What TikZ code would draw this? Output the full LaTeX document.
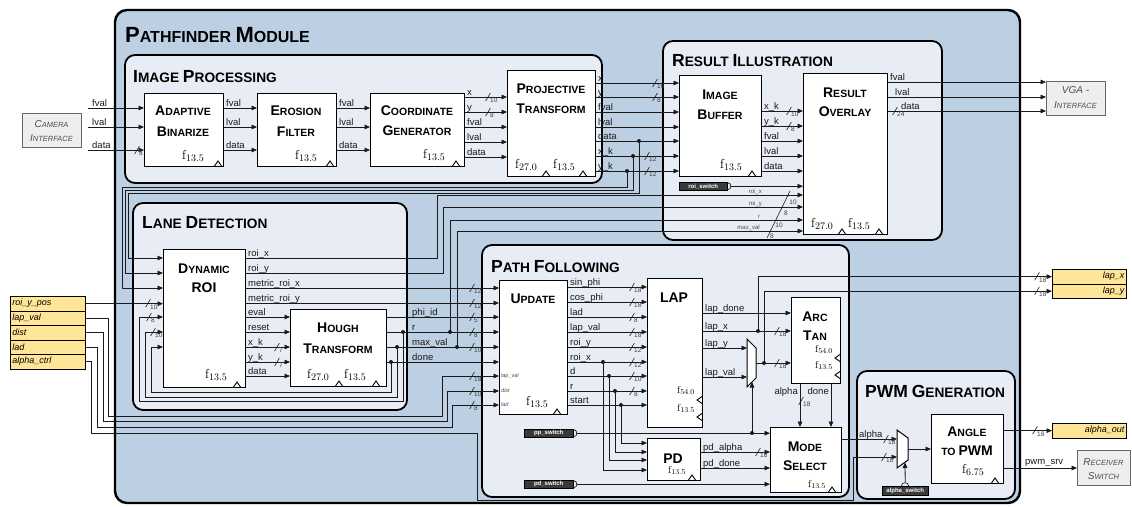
\documentclass[tikz,border=0pt]{standalone}
\usepackage{fontspec}
\setsansfont{Liberation Sans}
\usetikzlibrary{arrows.meta,calc}

\definecolor{modfill}{HTML}{BDCFE2}
\definecolor{secfill}{HTML}{E8EDF5}
\definecolor{ioyellow}{HTML}{FFE597}
\definecolor{extfill}{HTML}{EEEEEE}
\definecolor{tagfill}{HTML}{3A3A3A}
\definecolor{wirecol}{HTML}{1A1A1A}

% fake small capitals: larger initials
\newcommand\bk[1]{{\fontsize{14}{14}\selectfont #1}}
\newcommand\sk[1]{{\fontsize{17.5}{17.5}\selectfont #1}}
\newcommand\mk[1]{{\fontsize{22}{22}\selectfont #1}}
\newcommand\ck[1]{{\fontsize{10}{10}\selectfont #1}}
% clock-domain labels
\newcommand\fq[1]{f\raisebox{-2.4pt}{\fontsize{10}{10}\selectfont #1}}
\newcommand\fqs[1]{f\raisebox{-1.8pt}{\fontsize{7.5}{7.5}\selectfont #1}}

\newcounter{busn}
\newcounter{lbln}
\newcounter{ttln}

\tikzset{
  wire/.style={draw=wirecol, line width=0.8pt},
  arr/.style={wire, -{Triangle[length=5.5pt,width=4.6pt]}},
  box/.style={draw=black, fill=white, line width=1.2pt, inner sep=0pt},
  sec/.style={draw=black, fill=secfill, line width=1.8pt, rounded corners=10pt},
  modt/.style={font=\sffamily\bfseries\fontsize{16}{16}\selectfont, inner sep=0pt, anchor=base west},
  sect/.style={font=\sffamily\bfseries\fontsize{13.7}{13.7}\selectfont, inner sep=0pt, anchor=base west},
  bt/.style={font=\sffamily\bfseries\fontsize{10.5}{10.5}\selectfont, inner sep=0pt, anchor=base},
  lbl/.style={font=\sffamily\fontsize{9.5}{9.5}\selectfont, text=wirecol, inner sep=0pt, anchor=base west},
  tiny/.style={font=\sffamily\fontsize{6}{6}\selectfont, text=black!70, inner sep=0pt},
  buslbl/.style={font=\sffamily\fontsize{6.5}{6.5}\selectfont, text=black!75, inner sep=0pt, anchor=north west},
  busln/.style={draw=wirecol, line width=0.6pt},
  freq/.style={font=\fontsize{13}{13}\selectfont, inner sep=0pt, anchor=base west},
  freqs/.style={font=\fontsize{10}{10}\selectfont, inner sep=0pt, anchor=base west},
  clk/.style={draw=black, line width=0.9pt},
  tag/.style={draw=black, fill=tagfill, text=white, font=\sffamily\bfseries\fontsize{6}{6}\selectfont, inner sep=0pt, anchor=north west},
  yel/.style={draw=black, fill=ioyellow, line width=0.8pt, inner sep=0pt, anchor=north west, font=\sffamily\itshape\fontsize{9}{9}\selectfont},
  ext/.style={draw=black!60, fill=extfill, line width=0.8pt, inner sep=0pt, anchor=north west},
  extt/.style={font=\sffamily\itshape\fontsize{7.5}{7.5}\selectfont, text=black!70, inner sep=0pt, anchor=base},
  mux/.style={draw=black, fill=white, line width=1pt},
}

\newcommand\blk[5]{\node[box, anchor=north west, minimum width={(#4-#2)*1pt}, minimum height={(#5-#3)*1pt}] (#1) at (#2,#3) {};}
\newcommand\bus[3]{\stepcounter{busn}%
  \draw[busln] (#1-2.4,#2+4) -- (#1+2.4,#2-4);%
  \node[buslbl] (bus-\arabic{busn}) at (#1+2,#2+1.2) {#3};}
\newcommand\wl[3]{\stepcounter{lbln}\node[lbl] (wl-\arabic{lbln}) at (#1,#2-1.6) {#3};}
\newcommand\ttl[3]{\stepcounter{ttln}\node[bt] (tt-\arabic{ttln}) at (#1,#2) {#3};}
\newcommand\clk[2]{\draw[clk] (#1-3.5,#2) -- (#1,#2-5) -- (#1+3.5,#2);}
\newcommand\clkl[2]{\draw[clk] (#1,#2-3.5) -- (#1-5,#2) -- (#1,#2+3.5);}
\newcommand\jd[1]{\fill[wirecol] (#1) circle (2pt);}
\newcommand\tagend[1]{\draw[wire, line width=0.7pt] ($(#1.north east)+(0,0.6)$) .. controls +(4.6,0) and +(4.6,0) .. ($(#1.south east)+(0,-0.6)$);}

\begin{document}
\begin{tikzpicture}[x=1pt,y=-1pt]
\fill[white] (0,0) rectangle (1132,506);
\useasboundingbox (0,0) rectangle (1132,506);

% ---------------- module frame
\draw[line width=2.4pt, fill=modfill, rounded corners=12pt] (115,10) rectangle (1020,503);
\node[modt] (t-mod) at (125,42) {\mk{P}ATHFINDER \mk{M}ODULE};

% ---------------- sections
\draw[sec] (125,55) rectangle (602,183);
\node[sect] (t-ip) at (133,82) {\sk{I}MAGE \sk{P}ROCESSING};
\draw[sec] (663,41) rectangle (942,240);
\node[sect] (t-ri) at (672,66) {\sk{R}ESULT \sk{I}LLUSTRATION};
\draw[sec] (133,203) rectangle (407,410);
\node[sect] (t-ld) at (142,228) {\sk{L}ANE \sk{D}ETECTION};
\draw[sec] (482,245) rectangle (849,497);
\node[sect] (t-pf) at (491,272) {\sk{P}ATH \sk{F}OLLOWING};
\draw[sec] (857,371) rectangle (1015,499);
\node[sect] (t-pwm) at (865,397) {\sk{PWM} \sk{G}ENERATION};

% ---------------- blocks
\blk{ab}{144}{93}{223}{166}
\blk{ef}{257}{93}{336}{166}
\blk{cg}{370}{93}{464}{166}
\blk{pjt}{507}{70}{595}{176}
\blk{ib}{679}{75}{761}{176}
\blk{ro}{803}{73}{887}{234}
\blk{dr}{163}{249}{245}{387}
\blk{ht}{290}{309}{386}{386}
\blk{up}{499}{280}{567}{414}
\blk{lap}{647}{278}{702}{427}
\blk{pd}{647}{438}{700}{480}
\blk{atan}{791}{297}{840}{383}
\blk{ms}{770}{427}{841}{492}
\blk{ap}{931}{414}{1003}{483}

\ttl{183}{115}{\bk{A}DAPTIVE}   \ttl{183}{136}{\bk{B}INARIZE}
\ttl{296}{115}{\bk{E}ROSION}    \ttl{296}{136}{\bk{F}ILTER}
\ttl{417}{115}{\bk{C}OORDINATE} \ttl{417}{135}{\bk{G}ENERATOR}
\ttl{551}{93}{\bk{P}ROJECTIVE}  \ttl{551}{113}{\bk{T}RANSFORM}
\ttl{720}{99}{\bk{I}MAGE}       \ttl{720}{119}{\bk{B}UFFER}
\ttl{845}{97}{\bk{R}ESULT}      \ttl{845}{116}{\bk{O}VERLAY}
\ttl{204}{273}{\bk{D}YNAMIC}    \ttl{204}{292}{\bk{ROI}}
\ttl{338}{332}{\bk{H}OUGH}      \ttl{338}{353}{\bk{T}RANSFORM}
\ttl{533}{303}{\bk{U}PDATE}
\ttl{674}{302}{\bk{LAP}}
\ttl{673}{463}{\bk{PD}}
\ttl{815}{321}{\bk{A}RC}        \ttl{815}{340}{\bk{T}AN}
\ttl{805}{451}{\bk{M}ODE}       \ttl{805}{470}{\bk{S}ELECT}
\ttl{967}{436}{\bk{A}NGLE}      \ttl{967}{455}{TO \bk{PWM}}

\node[freq] (f-ab) at (182,159) {\fq{13.5}};
\node[freq] (f-ef) at (295,159) {\fq{13.5}};
\node[freq] (f-cg) at (423,158) {\fq{13.5}};
\node[freq] (f-pt1) at (515,168) {\fq{27.0}};
\node[freq] (f-pt2) at (553,168) {\fq{13.5}};
\node[freq] (f-ib) at (720,168) {\fq{13.5}};
\node[freq] (f-ro1) at (811,227) {\fq{27.0}};
\node[freq] (f-ro2) at (848,227) {\fq{13.5}};
\node[freq] (f-dr) at (205,378) {\fq{13.5}};
\node[freq] (f-ht1) at (307,378) {\fq{27.0}};
\node[freq] (f-ht2) at (344,378) {\fq{13.5}};
\node[freq] (f-up) at (526,405) {\fq{13.5}};
\node[freqs] (f-lap1) at (677,393) {\fqs{54.0}};
\node[freqs] (f-lap2) at (677,411) {\fqs{13.5}};
\node[freqs] (f-pd) at (668,473) {\fqs{13.5}};
\node[freqs] (f-at1) at (815,352) {\fqs{54.0}};
\node[freqs] (f-at2) at (815,368) {\fqs{13.5}};
\node[freqs] (f-ms) at (808,487) {\fqs{13.5}};
\node[freq] (f-ap) at (962,473) {\fq{6.75}};

\clk{218}{166} \clk{330}{166} \clk{456}{166} \clk{546}{176} \clk{583}{176}
\clk{752}{176} \clk{842}{234} \clk{879}{234} \clk{237}{387} \clk{339}{386}
\clk{376}{386} \clk{557}{414} \clk{692}{480} \clk{832}{492} \clk{995}{483}
\clkl{702}{400} \clkl{702}{417} \clkl{840}{358} \clkl{840}{375}

% multiplexers
\draw[mux] (747,339) -- (756,348) -- (756,378) -- (747,387) -- cycle;
\coordinate (m1-in1) at (747,348); \coordinate (m1-in2) at (747,377);
\coordinate (m1-out) at (756,363); \coordinate (m1-sel) at (752,382);
\draw[mux] (897,430) -- (908,438) -- (908,460) -- (897,468) -- cycle;
\coordinate (m2-in1) at (897,439); \coordinate (m2-in2) at (897,457);
\coordinate (m2-out) at (908,449); \coordinate (m2-sel) at (905,462.5);

% ---------------- external interfaces
\node[ext, minimum width=59pt, minimum height=34pt] (cam) at (22,113) {};
\node[extt] (cam-t1) at (51.5,127) {\ck{C}AMERA};
\node[extt] (cam-t2) at (51.5,141) {\ck{I}NTERFACE};
\node[ext, minimum width=59pt, minimum height=34pt] (vga) at (1046,81) {};
\node[extt] (vga-t1) at (1075.5,93) {\ck{VGA -}};
\node[extt] (vga-t2) at (1075.5,108) {\ck{I}NTERFACE};
\node[ext, minimum width=53pt, minimum height=35pt] (rs) at (1077,450) {};
\node[extt] (rs-t1) at (1103.5,465) {\ck{R}ECEIVER};
\node[extt] (rs-t2) at (1103.5,479) {\ck{S}WITCH};

\node[yel, minimum width=75pt, minimum height=14.5pt, text width=71pt, align=left] (y-roi) at (10,296) {roi\_y\_pos};
\node[yel, minimum width=75pt, minimum height=14.5pt, text width=71pt, align=left] (y-lap) at (10,310.5) {lap\_val};
\node[yel, minimum width=75pt, minimum height=14.5pt, text width=71pt, align=left] (y-dist) at (10,325) {dist};
\node[yel, minimum width=75pt, minimum height=14.5pt, text width=71pt, align=left] (y-lad) at (10,339.5) {lad};
\node[yel, minimum width=75pt, minimum height=14.5pt, text width=71pt, align=left] (y-alpha) at (10,354) {alpha\_ctrl};
\node[yel, minimum width=74pt, minimum height=14.5pt, text width=70pt, align=right] (y-lapx) at (1052,269) {lap\_x};
\node[yel, minimum width=74pt, minimum height=14.5pt, text width=70pt, align=right] (y-lapy) at (1052,283.5) {lap\_y};
\node[yel, minimum width=74pt, minimum height=14.5pt, text width=70pt, align=right] (y-aout) at (1052,423) {alpha\_out};

% switch tags
\node[tag, minimum width=48pt, minimum height=8pt] (rsw) at (679,182) {roi\_switch};
\tagend{rsw}
\node[tag, minimum width=49pt, minimum height=8pt] (ppsw) at (524,429) {pp\_switch};
\tagend{ppsw}
\node[tag, minimum width=49pt, minimum height=8pt] (pdsw) at (524,480) {pd\_switch};
\tagend{pdsw}
\node[tag, minimum width=46pt, minimum height=9pt] (asw) at (882,486) {alpha\_switch};
\draw[wire, line width=0.7pt] (901.4,486) .. controls (901.4,481.6) and (908.6,481.6) .. (908.6,486);

% ---------------- image processing wires
\coordinate (ci1) at (88,108); \coordinate (ci2) at (88,127); \coordinate (ci3) at (88,150);
\draw[arr] (ci1) -- (ab.west |- ci1);
\draw[arr] (ci2) -- (ab.west |- ci2);
\draw[arr] (ci3) -- (ab.west |- ci3);
\wl{92}{108}{fval} \wl{92}{127}{lval} \wl{92}{150}{data}
\bus{137}{150}{8}
\foreach \yy/\lab in {108/fval,127/lval,150/data} {
  \draw[arr] (ab.east |- 0,\yy) -- (ef.west |- 0,\yy); \wl{226}{\yy}{\lab}
  \draw[arr] (ef.east |- 0,\yy) -- (cg.west |- 0,\yy); \wl{339}{\yy}{\lab}
}
\foreach \yy/\lab in {97/x,112/y,127/fval,142/lval,157/data} {
  \draw[arr] (cg.east |- 0,\yy) -- (pjt.west |- 0,\yy); \wl{467}{\yy}{\lab}
}
\bus{488}{97}{10} \bus{488}{112}{8}
\foreach \yy/\lab in {83/x,97/y,112/fval,127/lval,141/data,156/x\_k,171/y\_k} {
  \draw[arr] (pjt.east |- 0,\yy) -- (ib.west |- 0,\yy); \wl{598}{\yy}{\lab}
}
\bus{655}{83}{10} \bus{655}{97}{8} \bus{647}{156}{12} \bus{647}{171}{12}
\coordinate (j-data) at (639,141); \coordinate (j-xk) at (633,156); \coordinate (j-yk) at (627,171);
\jd{j-data} \jd{j-xk} \jd{j-yk}
\draw[arr] (j-data) -- (639,193) -- (128,193) -- (128,258) -- (dr.west |- 0,258);
\draw[arr] (j-xk) -- (633,190) -- (125,190) -- (125,273) -- (dr.west |- 0,273);
\draw[arr] (j-yk) -- (627,187) -- (122,187) -- (122,288) -- (dr.west |- 0,288);

% ---------------- result illustration wires
\foreach \yy/\lab in {111/x\_k,126/y\_k,141/fval,156/lval,171/data} {
  \draw[arr] (ib.east |- 0,\yy) -- (ro.west |- 0,\yy); \wl{764}{\yy}{\lab}
}
\bus{789}{111}{10} \bus{789}{126}{8}
\draw[arr] ($(rsw.east)+(3.4,0)$) -- (ro.west |- rsw.east);
\draw[arr] (ro.east |- 0,82) -- (vga.west |- 0,82);
\draw[arr] (ro.east |- 0,97) -- (vga.west |- 0,97);
\draw[arr] (ro.east |- 0,111) -- (vga.west |- 0,111);
\wl{890}{82}{fval} \wl{895}{97}{lval} \wl{901}{111}{data}
\bus{895}{111}{24}
\node[tiny, anchor=base east] (rl-1) at (762,193.5) {roi\_x};
\node[tiny, anchor=base east] (rl-2) at (762,205.5) {roi\_y};
\node[tiny, anchor=base east] (rl-3) at (760,218.5) {r};
\node[tiny, anchor=base east] (rl-4) at (760,229.5) {max\_val};
\draw[busln] (767,238) -- (790,191);
\node[buslbl, anchor=center] (rb-1) at (793,202) {10};
\node[buslbl, anchor=center] (rb-2) at (786,213.5) {8};
\node[buslbl, anchor=center] (rb-3) at (779,225) {10};
\node[buslbl, anchor=center] (rb-4) at (772,236) {8};

% ---------------- lane detection wires
\draw[arr] (y-roi.east) -- (dr.west |- y-roi.east);
\bus{148}{303.25}{10}
\coordinate (j-r1) at (403,332); \coordinate (j-mv1) at (397,347); \coordinate (j-dn1) at (391,362);
\coordinate (j-r2) at (450,332); \coordinate (j-mv2) at (457,347);
\draw[arr] (j-r1) -- (403,401) -- (139,401) -- (139,317) -- (dr.west |- 0,317);
\bus{149}{317}{8}
\draw[arr] (j-mv1) -- (397,397) -- (145,397) -- (145,332) -- (dr.west |- 0,332);
\bus{153}{332}{10}
\draw[arr] (j-dn1) -- (391,392) -- (151,392) -- (151,347) -- (dr.west |- 0,347);

\foreach \yy/\lab in {258/roi\_x,273/roi\_y,288/metric\_roi\_x,303/metric\_roi\_y,317/eval,332/reset,347/x\_k,362/y\_k,376/data} {
  \wl{248}{\yy}{\lab}
}
\draw[arr] (dr.east |- 0,258) -- (437,258) -- (437,195) -- (ro.west |- 0,195);
\draw[arr] (dr.east |- 0,273) -- (443,273) -- (443,207) -- (ro.west |- 0,207);
\draw[arr] (dr.east |- 0,288) -- (up.west |- 0,288);
\draw[arr] (dr.east |- 0,303) -- (up.west |- 0,303);
\foreach \yy in {317,332,347,362,376} {
  \draw[arr] (dr.east |- 0,\yy) -- (ht.west |- 0,\yy);
}
\bus{277}{347}{7} \bus{277}{362}{7}

\draw[arr] (ht.east |- 0,317) -- (up.west |- 0,317);
\draw[arr] (ht.east |- 0,332) -- (up.west |- 0,332);
\draw[arr] (ht.east |- 0,347) -- (up.west |- 0,347);
\draw[arr] (ht.east |- 0,362) -- (up.west |- 0,362);
\wl{412}{317}{phi\_id} \wl{412}{332}{r} \wl{412}{347}{max\_val} \wl{412}{362}{done}
\jd{j-r1} \jd{j-mv1} \jd{j-dn1} \jd{j-r2} \jd{j-mv2}
\draw[arr] (j-r2) -- (450,220) -- (ro.west |- 0,220);
\draw[arr] (j-mv2) -- (457,231) -- (ro.west |- 0,231);
\bus{472}{288}{12} \bus{472}{303}{12} \bus{472}{317}{5} \bus{472}{332}{8} \bus{472}{347}{10}

% ---------------- external control inputs
\draw[arr] (y-lap.east) -- (y-lap.east -| 108,0) -- (108,416) -- (442,416) -- (442,376) -- (up.west |- 0,376);
\draw[arr] (y-dist.east) -- (y-dist.east -| 103,0) -- (103,421) -- (447,421) -- (447,391) -- (up.west |- 0,391);
\draw[arr] (y-lad.east) -- (y-lad.east -| 97,0) -- (97,427) -- (452,427) -- (452,405) -- (up.west |- 0,405);
\draw[arr] (y-alpha.east) -- (y-alpha.east -| 91,0) -- (91,433) -- (477,433) -- (477,500) -- (853,500) -- (853,457) -- (m2-in2);
\bus{472}{376}{18} \bus{472}{391}{10} \bus{472}{405}{8}
\node[tiny, anchor=west, font=\sffamily\itshape\fontsize{5.5}{5.5}\selectfont] (ul-1) at (501,376) {lap\_val};
\node[tiny, anchor=west, font=\sffamily\itshape\fontsize{5.5}{5.5}\selectfont] (ul-2) at (501,391) {dist};
\node[tiny, anchor=west, font=\sffamily\itshape\fontsize{5.5}{5.5}\selectfont] (ul-3) at (501,405) {lad};

% ---------------- path following wires
\foreach \yy/\lab in {287/sin\_phi,302/cos\_phi,317/lad,332/lap\_val,347/roi\_y,362/roi\_x,376/d,391/r,405/start} {
  \draw[arr] (up.east |- 0,\yy) -- (lap.west |- 0,\yy); \wl{570}{\yy}{\lab}
}
\bus{632}{287}{18} \bus{632}{302}{18} \bus{632}{317}{8} \bus{632}{332}{18}
\bus{632}{347}{12} \bus{632}{362}{12} \bus{632}{376}{10} \bus{632}{391}{8}
\coordinate (j-rx) at (603,362); \coordinate (j-d) at (609,376);
\coordinate (j-rr) at (615,391); \coordinate (j-st) at (621,405);
\jd{j-rx} \jd{j-d} \jd{j-rr} \jd{j-st}
\draw[arr] (j-rx) -- (603,470) -- (pd.west |- 0,470);
\draw[arr] (j-d) -- (609,460) -- (pd.west |- 0,460);
\draw[arr] (j-rr) -- (615,452) -- (pd.west |- 0,452);
\draw[arr] (j-st) -- (621,443) -- (pd.west |- 0,443);

\draw[arr] (lap.east |- 0,313) -- (atan.west |- 0,313);
\draw[arr] (lap.east |- 0,331) -- (atan.west |- 0,331);
\draw[arr] (lap.east |- 0,348) -- (m1-in1);
\draw[arr] (lap.east |- 0,377) -- (m1-in2);
\wl{705}{313}{lap\_done} \wl{705}{331}{lap\_x} \wl{705}{348}{lap\_y} \wl{705}{377}{lap\_val}
\coordinate (j-lx) at (758,331); \coordinate (j-mo) at (764,363);
\draw[arr] (m1-out) -- (atan.west |- m1-out);
\jd{j-lx} \jd{j-mo}
\bus{777}{331}{18} \bus{777}{363}{18}
\draw[arr] (j-lx) -- (j-lx |- y-lapx.west) -- (y-lapx.west);
\draw[arr] (j-mo) -- (j-mo |- y-lapy.west) -- (y-lapy.west);
\bus{1037}{276.25}{18} \bus{1037}{290.75}{18}

\coordinate (j-pp) at (752,433);
\draw[arr] ($(ppsw.east)+(3.4,0)$) -- (ms.west |- ppsw.east);
\jd{j-pp}
\draw[arr] (j-pp) -- (m1-sel);
\draw[arr] ($(pdsw.east)+(3.4,0)$) -- (ms.west |- pdsw.east);
\draw[arr] (pd.east |- 0,452) -- (ms.west |- 0,452);
\draw[arr] (pd.east |- 0,468) -- (ms.west |- 0,468);
\wl{703}{452}{pd\_alpha} \wl{703}{468}{pd\_done}
\bus{758}{452}{18}

\draw[arr] (atan.south -| 800,0) -- (ms.north -| 800,0);
\draw[arr] (atan.south -| 831,0) -- (ms.north -| 831,0);
\node[lbl, anchor=base east] (al-1) at (798,394) {alpha};
\node[lbl, anchor=base east] (al-2) at (829,394) {done};
\bus{801}{401}{18}

% ---------------- PWM generation wires
\draw[arr] (ms.east |- m2-in1) -- (m2-in1);
\wl{859}{439}{alpha}
\bus{886}{439}{18} \bus{884}{457}{18}
\draw[arr] (m2-out) -- (ap.west |- m2-out);
\draw[arr] (asw.north |- 0,482.6) -- (m2-sel);
\draw[arr] (ap.east |- y-aout.west) -- (y-aout.west);
\bus{1035}{430.25}{18}
\draw[arr] (ap.east |- 0,468) -- (rs.west |- 0,468);
\wl{1025}{466}{pwm\_srv}
\end{tikzpicture}
\end{document}
